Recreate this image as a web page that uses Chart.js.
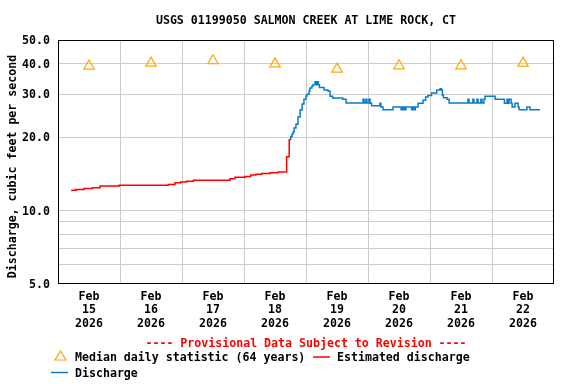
<!DOCTYPE html>
<html lang="en">
<head>
<meta charset="UTF-8" />
<title>USGS 01199050 Salmon Creek at Lime Rock, CT</title>
<script src="https://cdn.jsdelivr.net/npm/chart.js"></script>
<style>
  * { margin: 0; padding: 0; box-sizing: border-box; }
  body { background: #fff; width: 576px; height: 384px; overflow: hidden; }
</style>
</head>
<body>
<canvas id="flowChart" width="576" height="384"></canvas>
<script>
  // hours since Feb 15 2026 00:00
  const dayLabels = ["15", "16", "17", "18", "19", "20", "21", "22"];
  const yTickValues = [5, 6, 7, 8, 9, 10, 20, 30, 40, 50];
  const yLabelValues = [5, 10, 20, 30, 40, 50];

  const medianHours = [12, 36, 60, 84, 108, 132, 156, 180];
  const medianValues = [39.1, 40.2, 41.1, 39.9, 38.0, 39.2, 39.2, 40.2];

  const redHours = [5.4, 7.0, 10.1, 13.3, 16.3, 23.7, 42.7, 45.3, 47.5, 49.8, 52.4,
    66.6, 68.5, 72.4, 74.6, 76.6, 78.9, 82.1, 85.3, 88.5, 89.5, 90.1];
  const redValues = [12.0, 12.1, 12.2, 12.3, 12.4, 12.6, 12.7, 12.8, 13.0, 13.1, 13.2,
    13.3, 13.5, 13.7, 13.8, 14.0, 14.1, 14.2, 14.3, 14.4, 16.6, 19.5];

  const blueHours = [90.1, 90.6, 91.0, 91.4, 92.1, 92.9, 93.7, 94.5, 95.2, 96.0, 96.4, 97.2,
    97.5, 98.3, 98.7, 99.5, 99.9, 100.3, 100.8, 101.2, 103.0, 104.5, 105.3, 106.3,
    110.2, 111.5, 118.1, 118.5, 119.2, 119.6, 120.4, 120.8, 121.4, 124.6, 125.0, 125.8,
    129.7, 132.8, 133.2, 133.7, 134.0, 134.3, 134.7, 136.9, 137.3, 137.9, 138.3, 139.4,
    141.3, 142.3, 143.2, 144.6, 146.6, 147.9, 148.4, 148.8, 149.2, 150.6, 151.4, 158.7,
    159.1, 160.6, 161.0, 162.2, 162.6, 163.7, 164.1, 164.9, 165.3, 169.2, 172.8, 173.8,
    174.2, 174.6, 175.4, 175.8, 176.9, 178.1, 178.5, 181.5, 182.7, 183.1, 186.6];
  const blueValues = [19.5, 20.1, 20.6, 21.0, 21.8, 22.6, 24.2, 25.8, 27.3, 28.6, 29.5, 30.0,
    30.9, 31.8, 32.4, 32.8, 33.7, 32.8, 33.7, 32.8, 31.9, 31.2, 30.9, 29.4,
    28.9, 28.6, 27.6, 28.6, 27.6, 28.6, 27.6, 28.6, 27.5, 26.9, 27.5, 26.6,
    25.9, 26.6, 25.9, 26.6, 25.9, 26.6, 25.9, 26.6, 25.9, 26.6, 25.9, 26.6,
    27.5, 28.3, 29.2, 29.6, 30.3, 31.2, 31.6, 31.2, 29.7, 29.0, 28.6, 27.6,
    28.6, 27.6, 28.6, 27.6, 28.6, 27.6, 28.6, 27.6, 28.6, 29.4, 28.6, 27.5,
    28.6, 27.5, 28.6, 27.5, 26.6, 27.5, 26.6, 25.9, 26.6, 25.9, 25.9];

  const toPoints = (xs, ys) => xs.map((x, i) => ({ x: x, y: ys[i] }));

  const monoFamily = '"DejaVu Sans Mono", monospace';
  const monoBold = 'bold 11.6px "DejaVu Sans Mono", monospace';

  const usgsExtras = {
    id: "usgsExtras",
    beforeDatasetsDraw(chart) {
      const { ctx, chartArea: a } = chart;
      ctx.save();
      ctx.strokeStyle = "#000";
      ctx.lineWidth = 1;
      ctx.strokeRect(a.left + 0.5, a.top + 0.5, a.right - a.left - 1, a.bottom - a.top - 1);
      ctx.restore();
    },
    afterDraw(chart) {
      const { ctx, chartArea: a } = chart;
      const mid = (a.left + a.right) / 2;
      ctx.save();
      ctx.font = monoBold;
      ctx.textBaseline = "middle";

      ctx.fillStyle = "#000";
      ctx.textAlign = "center";
      ctx.fillText("USGS 01199050 SALMON CREEK AT LIME ROCK, CT", mid, 21);

      // y axis title
      ctx.save();
      ctx.translate(13, 166.5);
      ctx.rotate(-Math.PI / 2);
      ctx.fillText("Discharge, cubic feet per second", 0, 0);
      ctx.restore();

      ctx.fillStyle = "#ff0000";
      ctx.fillText("---- Provisional Data Subject to Revision ----", mid, 344);

      // legend
      ctx.textAlign = "left";
      ctx.strokeStyle = "#ffa500";
      ctx.lineWidth = 1.2;
      ctx.beginPath();
      ctx.moveTo(60.5, 351);
      ctx.lineTo(66, 360);
      ctx.lineTo(55, 360);
      ctx.closePath();
      ctx.stroke();
      ctx.fillStyle = "#000";
      ctx.fillText("Median daily statistic (64 years)", 75, 358);

      ctx.strokeStyle = "#ff0000";
      ctx.lineWidth = 1.5;
      ctx.beginPath();
      ctx.moveTo(313, 357);
      ctx.lineTo(330, 357);
      ctx.stroke();
      ctx.fillText("Estimated discharge", 337, 358);

      ctx.strokeStyle = "#0a7ccb";
      ctx.beginPath();
      ctx.moveTo(51, 372.5);
      ctx.lineTo(68, 372.5);
      ctx.stroke();
      ctx.fillText("Discharge", 75, 374);
      ctx.restore();
    }
  };

  new Chart(document.getElementById("flowChart"), {
    type: "line",
    data: {
      datasets: [
        {
          label: "Discharge",
          data: toPoints(blueHours, blueValues),
          borderColor: "#0a7ccb",
          borderWidth: 1.5,
          pointRadius: 0,
          stepped: "after",
          order: 3
        },
        {
          label: "Estimated discharge",
          data: toPoints(redHours, redValues),
          borderColor: "#ff0000",
          borderWidth: 1.5,
          pointRadius: 0,
          stepped: "after",
          order: 2
        },
        {
          label: "Median daily statistic (64 years)",
          data: toPoints(medianHours, medianValues),
          showLine: false,
          pointStyle: "triangle",
          pointRadius: 6,
          pointBorderWidth: 1.2,
          pointBorderColor: "#ffa500",
          pointBackgroundColor: "rgba(0,0,0,0)",
          order: 1
        }
      ]
    },
    options: {
      responsive: false,
      animation: false,
      layout: { padding: { top: 40, right: 22, bottom: 0, left: 0 } },
      plugins: {
        legend: { display: false },
        tooltip: { enabled: false }
      },
      scales: {
        x: {
          type: "linear",
          min: 0,
          max: 192,
          afterBuildTicks(scale) {
            const t = [];
            for (let v = 0; v <= 192; v += 12) t.push({ value: v });
            scale.ticks = t;
          },
          afterFit(scale) { scale.height = 100; },
          grid: {
            drawTicks: false,
            color: (c) => (c.tick && c.tick.value % 24 === 0 && c.tick.value > 0 && c.tick.value < 192) ? "#cccccc" : "rgba(0,0,0,0)"
          },
          border: { display: false },
          ticks: {
            autoSkip: false,
            maxRotation: 0,
            padding: 6,
            color: "#000",
            font: { family: monoFamily, size: 11.6, weight: "bold", lineHeight: 1.164 },
            callback: (v) => (v % 24 === 12 ? ["Feb", dayLabels[(v - 12) / 24], "2026"] : "")
          }
        },
        y: {
          type: "logarithmic",
          min: 5,
          max: 50,
          afterBuildTicks(scale) {
            scale.ticks = yTickValues.map((v) => ({ value: v }));
          },
          afterFit(scale) { scale.width = 58; },
          grid: {
            drawTicks: false,
            color: (c) => (c.tick && c.tick.value > 5 && c.tick.value < 50) ? "#cccccc" : "rgba(0,0,0,0)"
          },
          border: { display: false },
          ticks: {
            autoSkip: false,
            padding: 8,
            labelOffset: 1,
            color: "#000",
            font: { family: monoFamily, size: 11.6, weight: "bold" },
            callback: (v) => (yLabelValues.includes(v) ? v.toFixed(1) : "")
          }
        }
      }
    },
    plugins: [usgsExtras]
  });
</script>
</body>
</html>
